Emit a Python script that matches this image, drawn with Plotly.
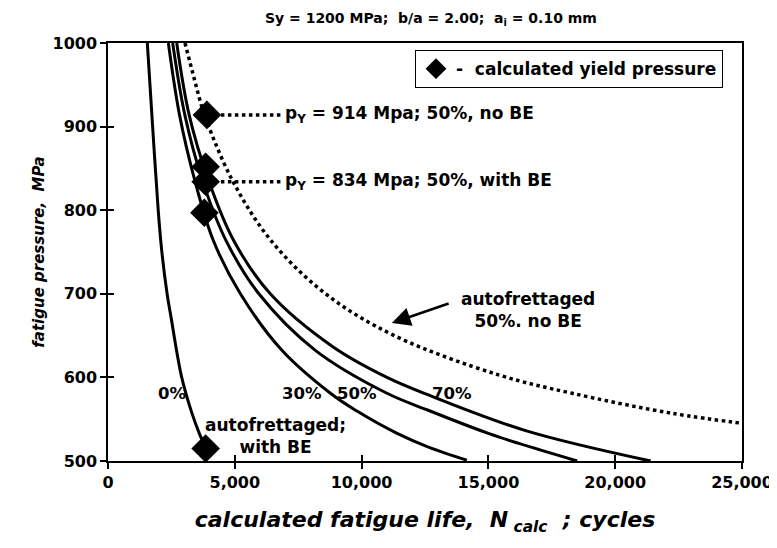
import plotly.graph_objects as go

# ---- data ----
p0_P = [1000, 900, 800, 752, 700, 673, 601, 560, 533, 515]
p0_N = [1550, 1760, 1980, 2117, 2330, 2480, 2900, 3280, 3600, 3860]

p30_P = [1000, 914, 836, 764, 700, 633, 581, 560, 533, 517, 501]
p30_N = [2380, 2820, 3420, 4150, 5220, 6840, 8770, 9800, 11400, 12610, 14150]

p50_P = [1000, 914, 836, 764, 700, 633, 581, 561, 533, 521, 500]
p50_N = [2550, 3030, 3720, 4650, 5950, 8150, 11000, 12600, 15000, 16200, 18500]

p70_P = [1000, 914, 836, 764, 700, 637, 600, 577, 536, 500]
p70_N = [2710, 3200, 3960, 4950, 6400, 8850, 11000, 12800, 16500, 21400]

nobe_P = [1000, 930, 914, 836, 764, 700, 650, 603, 581, 557, 544]
nobe_N = [3036, 3640, 3800, 4900, 6420, 8580, 11290, 15400, 18300, 22250, 25300]

yield_N = [3900, 3850, 3850, 3800, 3850]
yield_P = [914, 852, 834, 797, 515]

leader_P = [914, 834]
leader_N_start = 3900
leader_N_end = 6800

x_ticks = [0, 5000, 10000, 15000, 20000, 25000]
y_ticks = [500, 600, 700, 800, 900, 1000]

FONT = "DejaVu Sans"

fig = go.Figure()

for N, P in [(p0_N, p0_P), (p30_N, p30_P), (p50_N, p50_P), (p70_N, p70_P)]:
    fig.add_trace(go.Scatter(x=N, y=P, mode="lines",
                             line=dict(color="black", width=3, shape="spline", smoothing=1.0),
                             showlegend=False, hoverinfo="skip"))

fig.add_trace(go.Scatter(x=nobe_N, y=nobe_P, mode="lines",
                         line=dict(color="black", width=3.5, dash="dot", shape="spline", smoothing=1.0),
                         showlegend=False, hoverinfo="skip"))

for P in leader_P:
    fig.add_trace(go.Scatter(x=[leader_N_start, leader_N_end], y=[P, P], mode="lines",
                             line=dict(color="black", width=3.5, dash="dot"),
                             showlegend=False, hoverinfo="skip"))

fig.add_trace(go.Scatter(x=yield_N, y=yield_P, mode="markers",
                         marker=dict(symbol="diamond", size=22, color="black"),
                         name="<b>-  calculated yield pressure</b>", hoverinfo="skip"))

def ann(x, y, text, size=17, xanchor="center", align="center"):
    fig.add_annotation(x=x, y=y, text=text, showarrow=False, xanchor=xanchor, align=align,
                       font=dict(family=FONT, size=size, color="black"))

ann(leader_N_end + 100, 914, "<b>p<sub>Y</sub> = 914 Mpa; 50%, no BE</b>", xanchor="left")
ann(leader_N_end + 100, 834, "<b>p<sub>Y</sub> = 834 Mpa; 50%, with BE</b>", xanchor="left")
ann(2524, 581, "<b>0%</b>", size=16.5)
ann(7650, 581, "<b>30%</b>", size=16.5)
ann(9820, 581, "<b>50%</b>", size=16.5)
ann(13560, 581, "<b>70%</b>", size=16.5)
ann(6585, 530, "<b>autofrettaged;<br>with BE</b>")
ann(16560, 681, "<b>autofrettaged<br>50%. no BE</b>")

fig.add_annotation(x=11190, y=665, ax=13490, ay=689, xref="x", yref="y", axref="x", ayref="y",
                   text="", showarrow=True, arrowhead=2, arrowsize=1.5, arrowwidth=2.5, arrowcolor="black")

fig.update_layout(
    width=769, height=540,
    margin=dict(l=100, r=35, t=35, b=87, autoexpand=False),
    paper_bgcolor="white", plot_bgcolor="white",
    font=dict(family=FONT, color="black"),
    title=dict(text="<b>Sy = 1200 MPa;  b/a = 2.00;  a<sub>i</sub> = 0.10 mm</b>",
               x=0.55, xanchor="center", y=0.982, yanchor="middle",
               font=dict(family=FONT, size=14, color="black")),
    legend=dict(x=0.97, y=0.983, xanchor="right", yanchor="top",
                bordercolor="black", borderwidth=1, bgcolor="white",
                font=dict(family=FONT, size=17, color="black")),
    xaxis=dict(range=[0, 25000], tickvals=x_ticks, tickformat=",", showgrid=False, zeroline=False,
               automargin=False,
               showline=True, linecolor="black", linewidth=1.5, mirror=True,
               ticks="outside", ticklen=6, tickwidth=1.5, tickcolor="black",
               tickfont=dict(family=FONT, size=16, color="black", weight="bold"),
               title=dict(text="<b><i>calculated fatigue life,  N<sub> calc</sub>  ; cycles</i></b>",
                          font=dict(family=FONT, size=22, color="black"), standoff=21)),
    yaxis=dict(range=[500, 1000], tickvals=y_ticks, showgrid=False, zeroline=False,
               automargin=False,
               showline=True, linecolor="black", linewidth=1.5, mirror=True,
               ticks="outside", ticklen=6, tickwidth=1.5, tickcolor="black",
               tickfont=dict(family=FONT, size=16, color="black", weight="bold"),
               title=dict(text="<b><i>fatigue pressure,  MPa</i></b>",
                          font=dict(family=FONT, size=15, color="black"), standoff=4)),
    xaxis2=dict(overlaying="x", anchor="y", side="bottom", range=[0, 25000], tickvals=x_ticks,
                showticklabels=False, showgrid=False, zeroline=False, showline=False, automargin=False,
                ticks="inside", ticklen=6, tickwidth=1.5, tickcolor="black"),
    yaxis2=dict(overlaying="y", anchor="x", side="left", range=[500, 1000], tickvals=y_ticks,
                showticklabels=False, showgrid=False, zeroline=False, showline=False, automargin=False,
                ticks="inside", ticklen=6, tickwidth=1.5, tickcolor="black"),
)

fig.add_trace(go.Scatter(x=[0], y=[500], xaxis="x2", yaxis="y2", mode="markers",
                         marker=dict(opacity=0), showlegend=False, hoverinfo="skip"))

fig.write_html("out.html")
